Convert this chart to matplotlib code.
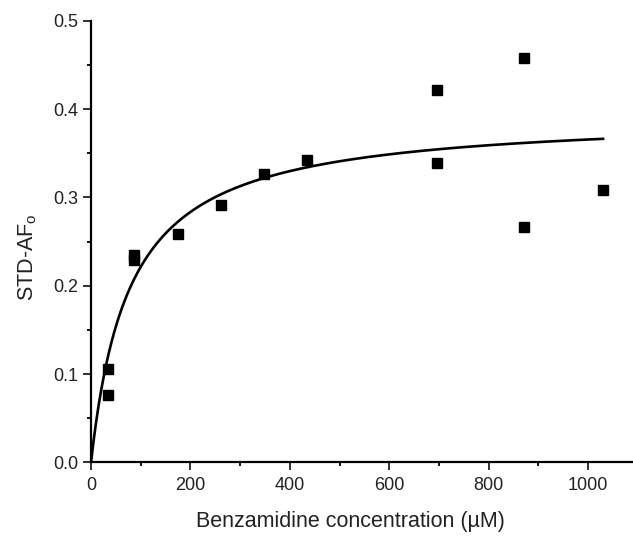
import numpy as np
import matplotlib
matplotlib.use("Agg")
import matplotlib.pyplot as plt
from matplotlib.ticker import MultipleLocator

plt.rcParams["font.family"] = ["Liberation Sans", "DejaVu Sans"]

# Measured points (benzamidine concentration in uM, STD amplification factor)
conc = [35, 35, 87, 87, 174, 261, 348, 435, 696, 696, 870, 870, 1030]
std_af = [0.106, 0.076, 0.235, 0.229, 0.258, 0.291, 0.326, 0.342,
          0.422, 0.339, 0.458, 0.266, 0.308]

# One-site binding fit
bmax = 0.394
kd = 78.0


def plot():
    fig = plt.figure(figsize=(6.33, 5.37), dpi=100)
    ax = fig.add_axes([0.1438, 0.139, 0.856, 0.8225])

    x_fit = np.linspace(0, max(conc), 400)
    ax.plot(x_fit, bmax * x_fit / (kd + x_fit), color="black", linewidth=1.9)
    ax.plot(conc, std_af, linestyle="none", marker="s", markersize=7.5,
            color="black")

    ax.set_xlim(0, 1090)
    ax.set_ylim(0, 0.5)
    ax.xaxis.set_major_locator(MultipleLocator(200))
    ax.xaxis.set_minor_locator(MultipleLocator(100))
    ax.yaxis.set_major_locator(MultipleLocator(0.1))
    ax.yaxis.set_minor_locator(MultipleLocator(0.05))
    ax.yaxis.set_major_formatter(plt.FormatStrFormatter("%.1f"))

    for side in ["top", "right"]:
        ax.spines[side].set_visible(False)
    for side in ["left", "bottom"]:
        ax.spines[side].set_linewidth(1.6)

    ax.tick_params(which="major", direction="out", length=6, width=1.3,
                   labelsize=13, colors="#222222")
    ax.tick_params(which="minor", direction="out", length=3.2, width=1.3)
    ax.tick_params(axis="x", which="major", pad=4.5)
    ax.tick_params(axis="y", which="major", pad=3)

    ax.set_xlabel("Benzamidine concentration (\u00b5M)", fontsize=15.5,
                  color="#222222")
    ax.xaxis.set_label_coords(0.478, -0.11)
    ax.set_ylabel(r"STD-AF$_\mathregular{o}$", fontsize=15.5,
                  color="#222222")
    ax.yaxis.set_label_coords(-0.096, 0.465)

    fig.savefig("out.png", dpi=100)


if __name__ == "__main__":
    plot()
